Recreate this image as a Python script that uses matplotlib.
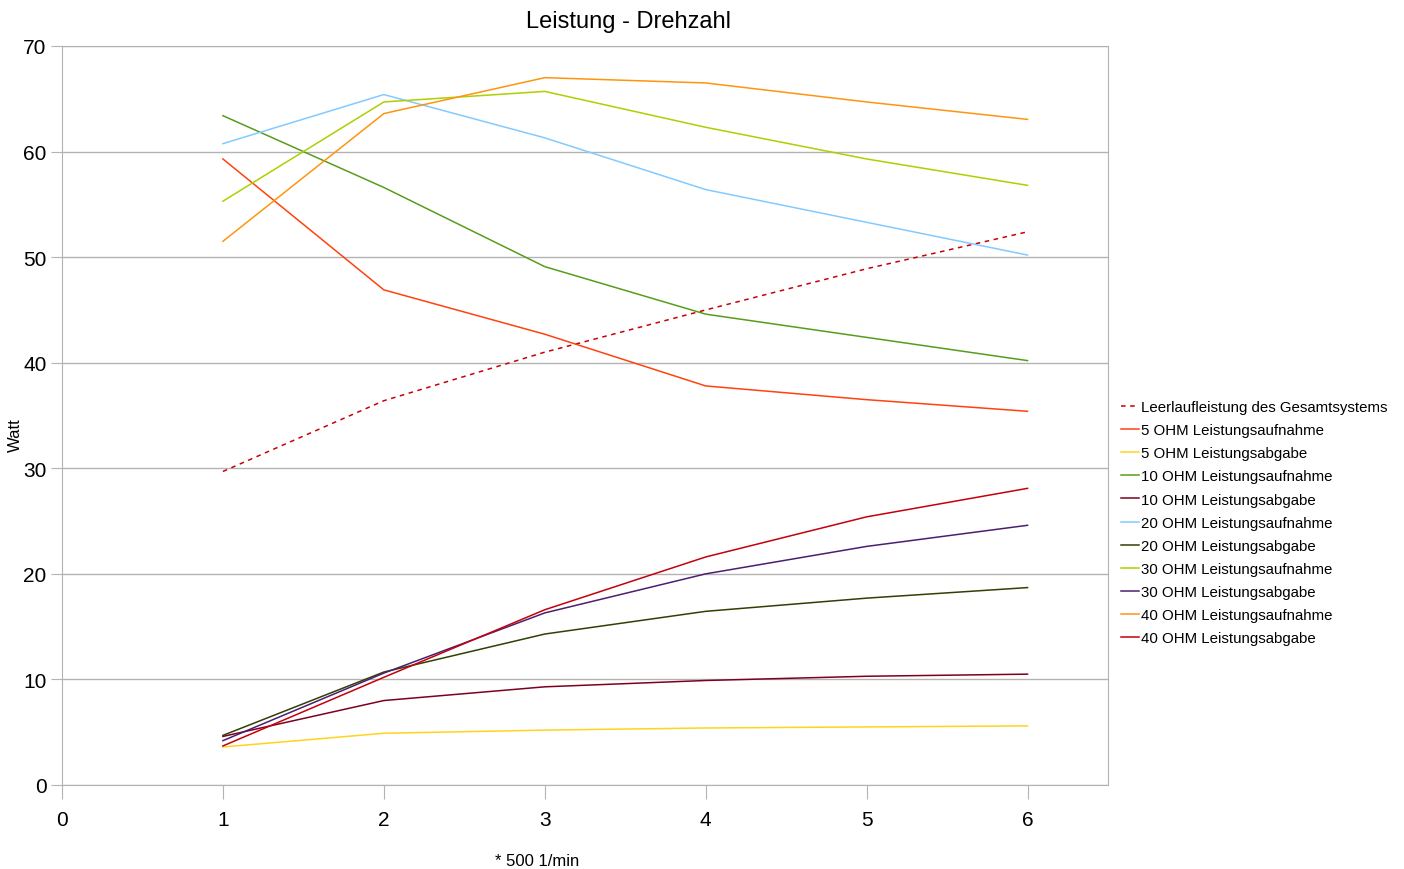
import matplotlib.pyplot as plt

plt.rcParams['font.family'] = ['Liberation Sans', 'DejaVu Sans']

# Drehzahl-Stufen (* 500 1/min)
stufen = [1, 2, 3, 4, 5, 6]

leerlauf = [29.7, 36.4, 41.0, 45.0, 48.9, 52.4]
ohm5_auf = [59.3, 46.9, 42.7, 37.8, 36.5, 35.4]
ohm5_ab = [3.6, 4.9, 5.2, 5.4, 5.5, 5.6]
ohm10_auf = [63.4, 56.6, 49.1, 44.6, 42.4, 40.2]
ohm10_ab = [4.6, 8.0, 9.3, 9.9, 10.3, 10.5]
ohm20_auf = [60.75, 65.4, 61.3, 56.4, 53.3, 50.2]
ohm20_ab = [4.7, 10.7, 14.3, 16.45, 17.7, 18.7]
ohm30_auf = [55.3, 64.7, 65.7, 62.3, 59.3, 56.8]
ohm30_ab = [4.2, 10.6, 16.3, 20.0, 22.6, 24.6]
ohm40_auf = [51.5, 63.6, 67.0, 66.5, 64.7, 63.05]
ohm40_ab = [3.7, 10.2, 16.6, 21.6, 25.4, 28.1]

reihen = [
    ('Leerlaufleistung des Gesamtsystems', leerlauf, '#c5000b', (0, (3, 3))),
    ('5 OHM Leistungsaufnahme', ohm5_auf, '#ff420e', '-'),
    ('5 OHM Leistungsabgabe', ohm5_ab, '#ffd320', '-'),
    ('10 OHM Leistungsaufnahme', ohm10_auf, '#579d1c', '-'),
    ('10 OHM Leistungsabgabe', ohm10_ab, '#7e0021', '-'),
    ('20 OHM Leistungsaufnahme', ohm20_auf, '#83caff', '-'),
    ('20 OHM Leistungsabgabe', ohm20_ab, '#314004', '-'),
    ('30 OHM Leistungsaufnahme', ohm30_auf, '#aecf00', '-'),
    ('30 OHM Leistungsabgabe', ohm30_ab, '#4b1f6f', '-'),
    ('40 OHM Leistungsaufnahme', ohm40_auf, '#ff950e', '-'),
    ('40 OHM Leistungsabgabe', ohm40_ab, '#c5000b', '-'),
]

W, H = 1404, 870
fig = plt.figure(figsize=(W / 100, H / 100), dpi=100)
ax = fig.add_axes([62 / W, 1 - 786 / H, (1108 - 62) / W, (786 - 47) / H])

for name, werte, farbe, stil in reihen:
    ax.plot(stufen, werte, color=farbe, linestyle=stil, linewidth=1.1, label=name)

ax.set_xlim(0, 6.5)
ax.set_ylim(0, 70)
ax.set_xticks(range(0, 7))
ax.set_yticks(range(0, 71, 10))
ax.grid(axis='y', color='#b3b3b3', linewidth=1)
ax.set_axisbelow(True)
for s in ax.spines.values():
    s.set_color('#b3b3b3')
ax.tick_params(axis='x', colors='#b3b3b3', length=10, labelcolor='black',
               labelsize=15, pad=8)
ax.tick_params(axis='y', colors='#b3b3b3', length=8, labelcolor='black',
               labelsize=15, pad=3)

# Titel und Achsenbeschriftungen
fig.text(628 / W, 1 - 22 / H, 'Leistung - Drehzahl', fontsize=17,
         ha='center', va='center')
fig.text(15 / W, 1 - 435 / H, 'Watt', fontsize=12, rotation=90,
         ha='center', va='center')
fig.text(537 / W, 1 - 862 / H, '* 500 1/min', fontsize=12,
         ha='center', va='center')

ax.legend(loc='upper left', bbox_to_anchor=(1121 / W, 1 - 401 / H),
          bbox_transform=fig.transFigure, frameon=False, fontsize=10.8,
          handlelength=1.2, handletextpad=0.15, labelspacing=0.61,
          borderaxespad=0, borderpad=0)

plt.savefig('out.png', dpi=100)
